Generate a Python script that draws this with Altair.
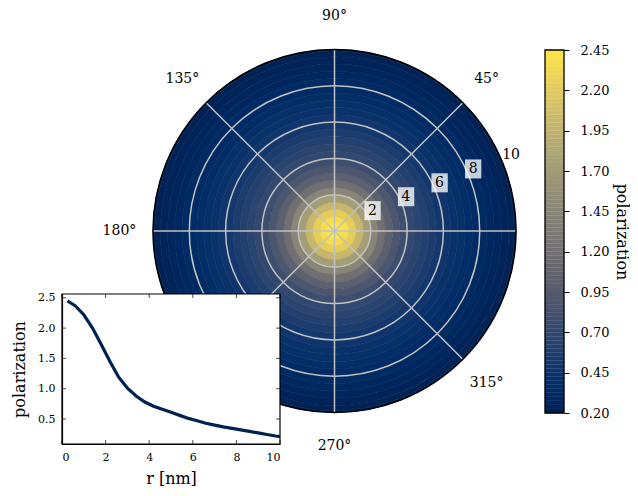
import altair as alt
import numpy as np
import pandas as pd

# ---------------- data ----------------
r_nm = [0.25, 0.6, 1.0, 1.4, 1.8, 2.2, 2.6, 3.0, 3.4, 3.8, 4.2, 4.6, 5.0,
        5.4, 5.8, 6.2, 6.6, 7.0, 7.4, 7.8, 8.2, 8.6, 9.0, 9.4, 9.8, 10.0]
polarization = [2.45, 2.37, 2.22, 2.00, 1.73, 1.45, 1.19, 1.01, 0.88, 0.78,
                0.71, 0.66, 0.61, 0.56, 0.51, 0.47, 0.43, 0.40, 0.37, 0.345,
                0.32, 0.295, 0.27, 0.245, 0.22, 0.21]

spoke_deg = [0, 45, 90, 135, 180, 225, 270, 315]
angle_label_deg = [45, 90, 135, 180, 270, 315]
angle_label_txt = ["45°", "90°", "135°", "180°", "270°", "315°"]
grid_r = [2, 4, 6, 8]
radial_label_r = [2, 4, 6, 8, 10]
radial_label_txt = ["2", "4", "6", "8", "10"]

inset_xticks = [0, 2, 4, 6, 8, 10]
inset_yticks = [0.5, 1.0, 1.5, 2.0, 2.5]
cbar_ticks = [0.20, 0.45, 0.70, 0.95, 1.20, 1.45, 1.70, 1.95, 2.20, 2.45]
cbar_min, cbar_max = 0.20, 2.45

FONT = "DejaVu Serif"

# ---------------- scales (plot area origin at page (62, 16)) ----------------
PX = alt.Scale(domain=[-10, 10], range=[91, 454], nice=False, zero=False)
PY = alt.Scale(domain=[-10, 10], range=[396.5, 33.5], nice=False, zero=False)
RS = alt.Scale(type="linear", domain=[0, 10], range=[0, 181.5], zero=True, nice=False)
CS = alt.Scale(scheme="cividis", domain=[cbar_min, cbar_max], clamp=True)

IX = alt.Scale(domain=[0, 10], range=[0, 218], nice=False, zero=False)
IY = alt.Scale(domain=[0.0875, 2.5625], range=[428, 278], nice=False, zero=False)

CX = alt.Scale(domain=[0, 1], range=[483, 502], nice=False, zero=False)
CY = alt.Scale(domain=[cbar_min, cbar_max], range=[397, 34], nice=False, zero=False)

# ---------------- polar part ----------------
r_arr = np.array(r_nm)
edges = np.concatenate([[0.0], (r_arr[1:] + r_arr[:-1]) / 2, [10.0]])
rings = pd.DataFrame({"r_in": edges[:-1], "r_out": edges[1:],
                      "pol": polarization, "cx": 0.0, "cy": 0.0})

PXE = alt.X("cx:Q", scale=PX, axis=None)
PYE = alt.Y("cy:Q", scale=PY, axis=None)

ring_layer = alt.Chart(rings).mark_arc(theta=0, theta2=6.2832, strokeWidth=0.6).encode(
    x=PXE, y=PYE,
    radius=alt.Radius("r_out:Q", scale=RS, stack=False),
    radius2="r_in:Q",
    color=alt.Color("pol:Q", scale=CS, legend=None),
    stroke=alt.Stroke("pol:Q", scale=CS, legend=None),
)

grid_df = pd.DataFrame({"r": grid_r, "cx": 0.0, "cy": 0.0})
grid_layer = alt.Chart(grid_df).mark_arc(theta=0, theta2=6.2832, filled=False,
                                          stroke="#c2c2c2", strokeWidth=1.5).encode(
    x=PXE, y=PYE, radius=alt.Radius("r:Q", scale=RS, stack=False))

spoke_df = pd.DataFrame({"a": spoke_deg})
spoke_layer = alt.Chart(spoke_df).transform_calculate(
    x0="0", y0="0",
    x1="10*cos(datum.a*PI/180)", y1="10*sin(datum.a*PI/180)",
).mark_rule(color="#c2c2c2", strokeWidth=1.5).encode(
    x=alt.X("x0:Q", scale=PX, axis=None), y=alt.Y("y0:Q", scale=PY, axis=None),
    x2="x1:Q", y2="y1:Q")

border_df = pd.DataFrame({"r": [10], "cx": 0.0, "cy": 0.0})
border_layer = alt.Chart(border_df).mark_arc(theta=0, theta2=6.2832, filled=False,
                                              stroke="black", strokeWidth=1.5).encode(
    x=PXE, y=PYE, radius=alt.Radius("r:Q", scale=RS, stack=False))

alab_df = pd.DataFrame({"a": angle_label_deg, "t": angle_label_txt})
alab_layer = alt.Chart(alab_df).transform_calculate(
    lx="11.85*cos(datum.a*PI/180)", ly="11.85*sin(datum.a*PI/180)",
).mark_text(font=FONT, fontSize=14, color="black", align="center", baseline="middle").encode(
    x=alt.X("lx:Q", scale=PX, axis=None), y=alt.Y("ly:Q", scale=PY, axis=None), text="t:N")

rlab_df = pd.DataFrame({"r": radial_label_r, "t": radial_label_txt})
rlab_base = alt.Chart(rlab_df).transform_calculate(
    lx="datum.r*cos(22.5*PI/180)", ly="datum.r*sin(22.5*PI/180)")
box_shape = "M-0.86,-1L0.86,-1L0.86,1L-0.86,1Z"
rbox_layer = rlab_base.transform_filter("datum.r < 10").mark_point(
    shape=box_shape, size=361, filled=True, fill="white", opacity=0.78,
    strokeWidth=0, xOffset=4.5, yOffset=-6.5).encode(
    x=alt.X("lx:Q", scale=PX, axis=None), y=alt.Y("ly:Q", scale=PY, axis=None))
rtext_layer = rlab_base.mark_text(font=FONT, fontSize=14, color="black", align="left",
                                  baseline="middle", dy=-6.5).encode(
    x=alt.X("lx:Q", scale=PX, axis=None), y=alt.Y("ly:Q", scale=PY, axis=None), text="t:N")

polar = alt.layer(ring_layer, grid_layer, spoke_layer, rbox_layer, rtext_layer,
                  border_layer, alab_layer)

# ---------------- inset ----------------
IXA = alt.Axis(title="r [nm]", values=inset_xticks, ticks=False, tickSize=0, labelPadding=7,
               titlePadding=8, labelFontSize=11, titleFontSize=16, labelFont=FONT,
               titleFont=FONT, titleFontWeight="normal", domainColor="black",
               domainWidth=1.2, grid=False, labelColor="black", titleColor="black",
               zindex=1, orient="bottom", format="d")
IYA = alt.Axis(title="polarization", values=inset_yticks, ticks=False, tickSize=0,
               labelPadding=7, titlePadding=10, labelFontSize=11, titleFontSize=16,
               labelFont=FONT, titleFont=FONT, titleFontWeight="normal",
               domainColor="black", domainWidth=1.2, grid=False, labelColor="black",
               titleColor="black", zindex=1, orient="left", format=".1f")

box_df = pd.DataFrame({"x0": [0.0], "x1": [10.0], "y0": [0.0875], "y1": [2.5625]})
inset_box = alt.Chart(box_df).mark_rect(fill="white", stroke="black", strokeWidth=1.2).encode(
    x=alt.X("x0:Q", scale=IX, axis=IXA), x2="x1:Q",
    y=alt.Y("y0:Q", scale=IY, axis=IYA), y2="y1:Q")

line_df = pd.DataFrame({"r": r_nm, "pol": polarization})
inset_line = alt.Chart(line_df).mark_line(color="#00224e", strokeWidth=3.2).encode(
    x=alt.X("r:Q", scale=IX, axis=IXA), y=alt.Y("pol:Q", scale=IY, axis=IYA))

xt_df = pd.DataFrame({"t": inset_xticks, "yb": 0.0875, "yt": 2.5625})
yt_df = pd.DataFrame({"t": inset_yticks, "xl": 0.0, "xr": 10.0})
tick_b = alt.Chart(xt_df).mark_tick(orient="vertical", size=4, thickness=1, color="black",
                                    yOffset=-2).encode(
    x=alt.X("t:Q", scale=IX, axis=IXA), y=alt.Y("yb:Q", scale=IY, axis=IYA))
tick_t = alt.Chart(xt_df).mark_tick(orient="vertical", size=4, thickness=1, color="black",
                                    yOffset=2).encode(
    x=alt.X("t:Q", scale=IX, axis=IXA), y=alt.Y("yt:Q", scale=IY, axis=IYA))
tick_l = alt.Chart(yt_df).mark_tick(orient="horizontal", size=4, thickness=1, color="black",
                                    xOffset=2).encode(
    x=alt.X("xl:Q", scale=IX, axis=IXA), y=alt.Y("t:Q", scale=IY, axis=IYA))
tick_r = alt.Chart(yt_df).mark_tick(orient="horizontal", size=4, thickness=1, color="black",
                                    xOffset=-2).encode(
    x=alt.X("xr:Q", scale=IX, axis=IXA), y=alt.Y("t:Q", scale=IY, axis=IYA))

inset = alt.layer(inset_box, inset_line, tick_b, tick_t, tick_l, tick_r)

# ---------------- colorbar ----------------
n_steps = 90
lv = np.linspace(cbar_min, cbar_max, n_steps + 1)
cb_df = pd.DataFrame({"x0": 0.0, "x1": 1.0, "y0": lv[:-1], "y1": lv[1:],
                      "val": (lv[:-1] + lv[1:]) / 2})
CAX = alt.Axis(title="polarization", values=cbar_ticks, format=".2f", orient="right",
               tickSize=5, tickColor="black", tickWidth=1, labelPadding=11,
               labelFontSize=13, titleFontSize=16, labelFont=FONT,
               titleFont=FONT, titleFontWeight="normal", domain=False, grid=False,
               labelColor="black", titleColor="black", zindex=1,
               titleX=57, titleY=215.5, titleAngle=90, titleAlign="center",
               titleBaseline="middle")
cb_rects = alt.Chart(cb_df).mark_rect(strokeWidth=0.3).encode(
    x=alt.X("x0:Q", scale=CX, axis=None), x2="x1:Q",
    y=alt.Y("y0:Q", scale=CY, axis=CAX), y2="y1:Q",
    color=alt.Color("val:Q", scale=CS, legend=None),
    stroke=alt.Stroke("val:Q", scale=CS, legend=None))
cbb_df = pd.DataFrame({"x0": [0.0], "x1": [1.0], "y0": [cbar_min], "y1": [cbar_max]})
cb_border = alt.Chart(cbb_df).mark_rect(filled=False, stroke="black", strokeWidth=1.3).encode(
    x=alt.X("x0:Q", scale=CX, axis=None), x2="x1:Q",
    y=alt.Y("y0:Q", scale=CY, axis=CAX), y2="y1:Q")
cbar = alt.layer(cb_rects, cb_border)

chart = alt.layer(polar, inset, cbar).resolve_scale(
    x="independent", y="independent"
).properties(
    width=502, height=428, autosize="none",
    padding={"left": 54, "top": 8, "right": 66, "bottom": 44},
    background="white",
).configure_view(strokeWidth=0)

chart.save("out.html", embed_options={"renderer": "svg", "actions": False})
